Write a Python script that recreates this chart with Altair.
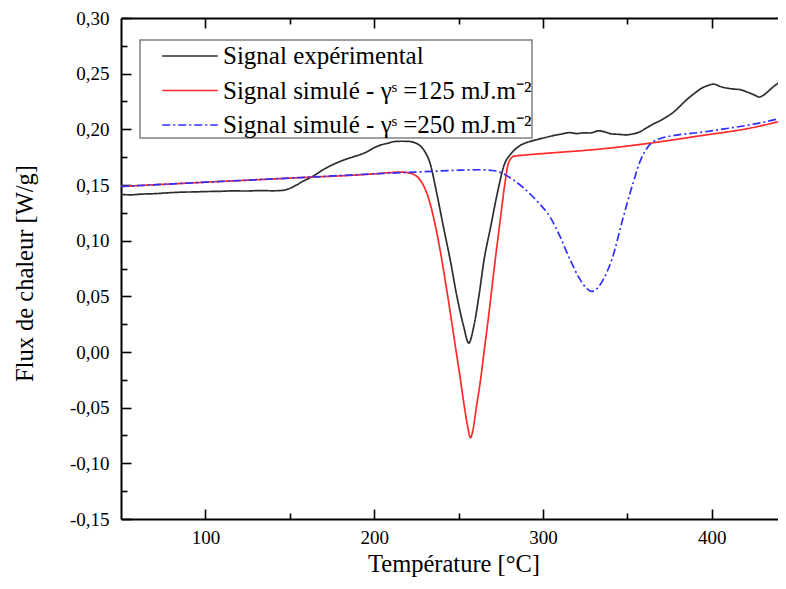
import altair as alt
import pandas as pd

# ---------------- data ----------------
SERIES = [
    "Signal expérimental",
    "Signal simulé - γˢ =125 mJ.m⁻²",
    "Signal simulé - γˢ =250 mJ.m⁻²",
]
COLORS = ["#2e2e2e", "#ff2a2a", "#2f2fff"]
DASHES = [[1, 0], [1, 0], [8, 3, 2, 3]]

exp_T = [50, 56, 62, 70, 78, 86, 94, 100, 108, 116, 124, 132, 140, 146, 150, 154,
         158, 162, 166, 170, 174, 178, 183, 188, 192, 196, 200, 204, 208, 212, 216,
         220, 224, 227, 230, 233, 237, 241, 245, 249, 253, 256, 259, 262, 265, 269,
         273, 277, 281, 286, 292, 297, 301, 305, 310, 316, 320, 324, 328, 333, 337,
         341, 345, 349, 353, 357, 361, 365, 369, 373, 377, 381, 385, 390, 394, 398,
         401, 405, 409, 413, 417, 421, 425, 428, 431, 434, 438, 441, 444]
exp_Y = [0.1415, 0.1412, 0.1418, 0.1422, 0.1430, 0.1436, 0.1438, 0.1441, 0.1443,
         0.1447, 0.1446, 0.1450, 0.1448, 0.1452, 0.1470, 0.1500, 0.1535, 0.1565,
         0.1600, 0.1640, 0.1672, 0.1700, 0.1730, 0.1755, 0.1775, 0.1800, 0.1835,
         0.1860, 0.1875, 0.1890, 0.1893, 0.1892, 0.1880, 0.1855, 0.1800, 0.1700,
         0.1430, 0.1125, 0.0830, 0.0500, 0.0230, 0.0080, 0.0230, 0.0500, 0.0820,
         0.1125, 0.1430, 0.1680, 0.1780, 0.1850, 0.1890, 0.1910, 0.1925, 0.1940,
         0.1955, 0.1970, 0.1962, 0.1968, 0.1967, 0.1987, 0.1975, 0.1958, 0.1955,
         0.1950, 0.1958, 0.1975, 0.2010, 0.2045, 0.2075, 0.2110, 0.2150, 0.2206,
         0.2265, 0.2326, 0.2370, 0.2395, 0.2407, 0.2385, 0.2370, 0.2362, 0.2356,
         0.2335, 0.2310, 0.2290, 0.2310, 0.2350, 0.2400, 0.2425, 0.2425]

sim125_T = [50, 100, 150, 200, 210, 216, 220, 224, 227, 230, 233, 236, 239, 242, 245,
            248, 251, 253.5, 255.5, 257, 258.5, 260.5, 263, 265.5, 268, 271, 274.7,
            277.2, 279.6, 282.6, 290, 304, 334, 364, 393, 423, 444]
sim125_Y = [0.1487, 0.1525, 0.1562, 0.1600, 0.1612, 0.1616, 0.1610, 0.1590, 0.1550,
            0.1470, 0.1340, 0.1150, 0.0920, 0.0650, 0.0360, 0.0060, -0.0240, -0.0500,
            -0.0680, -0.0770, -0.0700, -0.0500, -0.0250, 0.0050, 0.0350, 0.0740,
            0.1190, 0.1490, 0.1700, 0.1757, 0.1770, 0.1787, 0.1823, 0.1877, 0.1942,
            0.2012, 0.2086]

sim250_T = [50, 100, 150, 200, 230, 250, 262, 270, 276, 282, 288, 293, 298, 304, 310,
            316, 322, 326, 329, 332, 336, 341, 347, 353, 358, 362, 366, 370, 380, 393,
            410, 423, 444]
sim250_Y = [0.1487, 0.1525, 0.1562, 0.1600, 0.1620, 0.1633, 0.1637, 0.1630, 0.1605,
            0.1550, 0.1480, 0.1410, 0.1330, 0.1217, 0.1040, 0.0830, 0.0650, 0.0570,
            0.0545, 0.0570, 0.0660, 0.0840, 0.1180, 0.1500, 0.1730, 0.1840, 0.1895,
            0.1920, 0.1950, 0.1972, 0.2010, 0.2041, 0.2111]

X_MAJOR = [100, 200, 300, 400]
X_MINOR = [150, 250, 350]
Y_MAJOR = [-0.15, -0.10, -0.05, 0.0, 0.05, 0.10, 0.15, 0.20, 0.25, 0.30]
Y_MINOR = [-0.125, -0.075, -0.025, 0.025, 0.075, 0.125, 0.175, 0.225, 0.275]

# ---------------- table ----------------
rows = []
for name, T, Y in zip(SERIES, [exp_T, sim125_T, sim250_T], [exp_Y, sim125_Y, sim250_Y]):
    for t, y in zip(T, Y):
        rows.append({"series": name, "T": t, "Y": y})
df = pd.DataFrame(rows)

W, H = 657, 501
FONT = "Liberation Serif"
xscale = alt.Scale(domain=[50, 50 + W / 1.688], nice=False, zero=False)
yscale = alt.Scale(domain=[-0.15, 0.30], nice=False, zero=False)
ylab = "replace(replace(format(datum.value, '.2f'), '.', ','), '\u2212', '-')"

legend = alt.Legend(
    title=None, orient="none", legendX=19, legendY=22,
    symbolType="M-1.85,0H1.85", symbolSize=900, symbolStrokeWidth=1.6,
    symbolOffset=34, labelOffset=17, padding=0, rowPadding=5.5,
    labelFont=FONT, labelFontSize=25, labelColor="black", labelLimit=0,
    strokeColor="#808080", fillColor="white",
)

main = alt.Chart(df).mark_line(strokeWidth=1.7, clip=True, interpolate="monotone").encode(
    x=alt.X("T:Q", scale=xscale, axis=alt.Axis(
        orient="bottom", values=X_MAJOR, ticks=False, tickSize=0, labelPadding=9,
        labelFont=FONT, labelFontSize=19, labelColor="black",
        domain=True, grid=False, title="Température [°C]",
        titleFont=FONT, titleFontSize=24.5,
        titleX=(121 + 786) / 2 - 121, titleY=45, titleBaseline="middle", titleAlign="center")),
    y=alt.Y("Y:Q", scale=yscale, axis=alt.Axis(
        orient="left", values=Y_MAJOR, labelExpr=ylab, ticks=False, tickSize=0,
        labelFont=FONT, labelFontSize=19, labelColor="black",
        labelPadding=12, domain=True, grid=False, title="Flux de chaleur [W/g]",
        titleFont=FONT, titleFontSize=24.5,
        titleX=-96, titleY=255, titleAngle=270, titleBaseline="middle",
        titleAlign="center")),
    color=alt.Color("series:N", scale=alt.Scale(domain=SERIES, range=COLORS), legend=legend),
    strokeDash=alt.StrokeDash("series:N", scale=alt.Scale(domain=SERIES, range=DASHES), legend=legend),
)


def tick_layer(xaxis, yaxis):
    return alt.Chart(df).mark_point(opacity=0, size=1).encode(
        x=alt.X("T:Q", scale=xscale, axis=xaxis),
        y=alt.Y("Y:Q", scale=yscale, axis=yaxis),
    )


def tick_axis(orient, offset, values, size, domain=False):
    return alt.Axis(orient=orient, offset=offset, values=values, labels=False,
                    domain=domain, tickSize=size, grid=False, title=None)


l2 = tick_layer(tick_axis("top", -H, X_MAJOR, 10), tick_axis("right", -W, Y_MAJOR, 10))
l3 = tick_layer(tick_axis("top", -H, X_MINOR, 6), tick_axis("right", -W, Y_MINOR, 6))
l4 = tick_layer(tick_axis("bottom", -H, X_MAJOR, 10, domain=True), None)
l5 = tick_layer(tick_axis("bottom", -H, X_MINOR, 6), None)

chart = alt.layer(main, l2, l3, l4, l5).resolve_axis(
    x="independent", y="independent"
).properties(
    width=W, height=H,
    autosize=alt.AutoSizeParams(type="none"),
    padding={"left": 113, "top": 10, "right": 0, "bottom": 60},
    background="white",
).configure_view(stroke=None).configure_axis(
    labelFont=FONT, labelFontSize=19, labelColor="black",
    titleFont=FONT, titleFontSize=24.5, titleFontWeight="normal", titleColor="black",
    domainColor="black", domainWidth=2, tickColor="black", tickWidth=1.6,
).configure_legend(strokeWidth=1.5)

chart.save("out.html", embed_options={"renderer": "svg", "actions": False})
